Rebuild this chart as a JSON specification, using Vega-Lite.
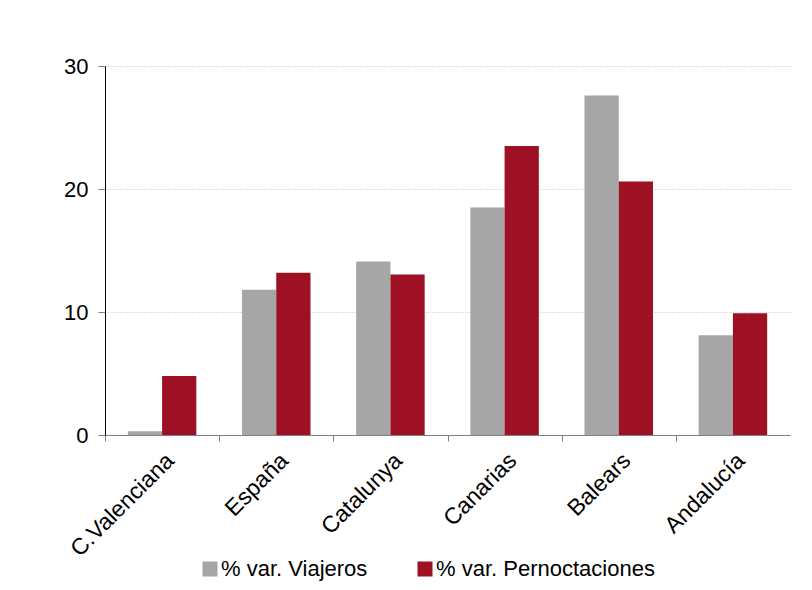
{
  "$schema": "https://vega.github.io/schema/vega-lite/v6.json",
  "width": 685,
  "height": 369,
  "autosize": {"type": "none"},
  "padding": {"left": 105, "top": 66, "right": 22, "bottom": 155},
  "background": "white",
  "config": {"view": {"stroke": null}, "font": "Liberation Sans"},
  "data": {
    "values": [
      {"region": "C.Valenciana", "serie": "% var. Viajeros", "valor": 0.3},
      {"region": "C.Valenciana", "serie": "% var. Pernoctaciones", "valor": 4.8},
      {"region": "España", "serie": "% var. Viajeros", "valor": 11.8},
      {"region": "España", "serie": "% var. Pernoctaciones", "valor": 13.2},
      {"region": "Catalunya", "serie": "% var. Viajeros", "valor": 14.1},
      {"region": "Catalunya", "serie": "% var. Pernoctaciones", "valor": 13.05},
      {"region": "Canarias", "serie": "% var. Viajeros", "valor": 18.5},
      {"region": "Canarias", "serie": "% var. Pernoctaciones", "valor": 23.5},
      {"region": "Balears", "serie": "% var. Viajeros", "valor": 27.6},
      {"region": "Balears", "serie": "% var. Pernoctaciones", "valor": 20.6},
      {"region": "Andalucía", "serie": "% var. Viajeros", "valor": 8.1},
      {"region": "Andalucía", "serie": "% var. Pernoctaciones", "valor": 9.9}
    ]
  },
  "mark": {"type": "bar"},
  "encoding": {
    "x": {
      "field": "region",
      "type": "nominal",
      "sort": null,
      "scale": {"paddingInner": 0.4, "paddingOuter": 0.2},
      "axis": {
        "title": null,
        "labelAngle": -45,
        "labelAlign": "right",
        "labelBaseline": "top",
        "labelFontSize": 23,
        "labelColor": "black",
        "labelPadding": 8,
        "tickOffset": -57,
        "labelOffset": 57,
        "tickSize": 6,
        "tickColor": "#808080",
        "domainColor": "#808080",
        "grid": false
      }
    },
    "xOffset": {
      "field": "serie",
      "type": "nominal",
      "sort": ["% var. Viajeros", "% var. Pernoctaciones"],
      "scale": {"paddingInner": 0, "paddingOuter": 0}
    },
    "y": {
      "field": "valor",
      "type": "quantitative",
      "scale": {"domain": [0, 30]},
      "axis": {
        "title": null,
        "values": [0, 10, 20, 30],
        "labelFontSize": 22,
        "labelColor": "black",
        "labelPadding": 10,
        "tickSize": 7,
        "tickColor": "#808080",
        "domainColor": "black",
        "gridColor": "#bdbdbd",
        "gridDash": [1, 2]
      }
    },
    "color": {
      "field": "serie",
      "type": "nominal",
      "sort": ["% var. Viajeros", "% var. Pernoctaciones"],
      "scale": {"domain": ["% var. Viajeros", "% var. Pernoctaciones"], "range": ["#A6A6A6", "#9E1024"]},
      "legend": {
        "title": null,
        "orient": "none",
        "legendX": 94,
        "legendY": 492,
        "direction": "horizontal",
        "symbolType": "square",
        "symbolSize": 225,
        "labelFontSize": 22,
        "labelLimit": 400,
        "labelColor": "black",
        "labelOffset": 0,
        "columnPadding": 46
      }
    }
  }
}
